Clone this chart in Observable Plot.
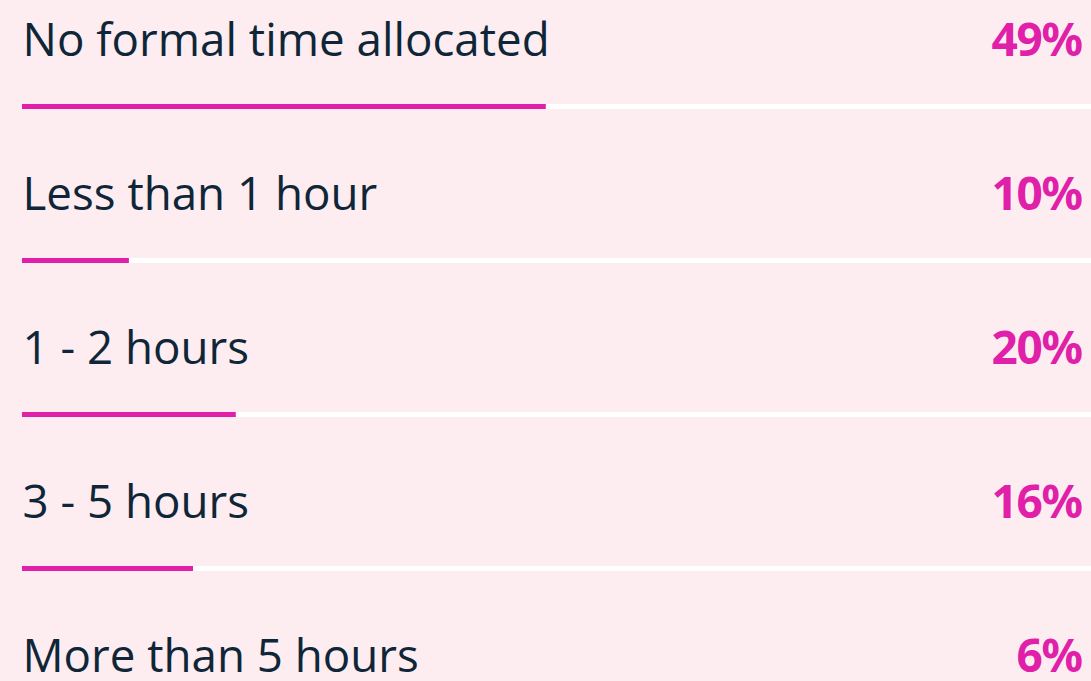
<!DOCTYPE html>
<html><head><meta charset="utf-8">
<script src="https://cdn.jsdelivr.net/npm/d3@7"></script>
<script src="https://cdn.jsdelivr.net/npm/@observablehq/plot@0.6"></script>
<style>html,body{margin:0;padding:0;background:#fdedf0;overflow:hidden;} .pct text{letter-spacing:-1.4px;}</style>
</head><body><div id="chart"></div>
<script>
const categories = ["No formal time allocated", "Less than 1 hour", "1 - 2 hours", "3 - 5 hours", "More than 5 hours"];
const values = [49, 10, 20, 16, 6];
const valueLabels = ["49%", "10%", "20%", "16%", "6%"];

const data = categories.map((c, i) => ({category: c, value: values[i], label: valueLabels[i]}));

const chart = Plot.plot({
  width: 1091,
  height: 681,
  margin: 0,
  style: {background: "#fdedf0", fontFamily: "'Open Sans', sans-serif", overflow: "hidden"},
  x: {domain: [0, 100], range: [22, 1091], axis: null},
  y: {type: "point", domain: categories, range: [53, 672], padding: 0, axis: null},
  marks: [
    Plot.ruleY(data, {y: "category", x1: 0, x2: 100, stroke: "#ffffff", strokeWidth: 5, dy: 51}),
    Plot.ruleY(data, {y: "category", x1: 0, x2: "value", stroke: "#e020a8", strokeWidth: 5, dy: 51}),
    Plot.text(data, {y: "category", x: 0, text: "category", textAnchor: "start", lineAnchor: "bottom", fontSize: 45.7, fill: "#0f2638"}),
    Plot.text(data, {y: "category", x: 100, dx: -10, text: "label", textAnchor: "end", lineAnchor: "bottom", fontSize: 46, fontWeight: 700, fill: "#e020a8", fontFamily: "'Noto Sans', sans-serif", className: "pct"})
  ]
});
document.getElementById("chart").append(chart);
</script>
</body></html>
